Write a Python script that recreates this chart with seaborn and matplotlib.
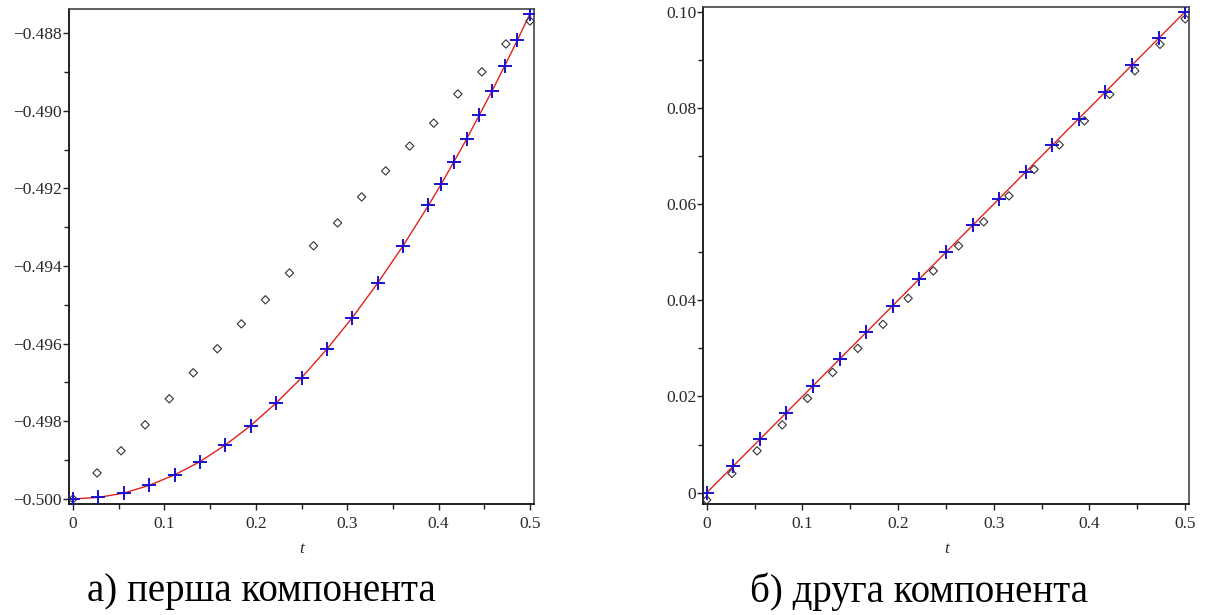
import matplotlib
matplotlib.use("Agg")
import matplotlib.pyplot as plt
import seaborn as sns
import pandas as pd

# ---- data ----
# left panel: first component
t_plus_1 = [0.0, 0.0278, 0.0556, 0.0833, 0.1111, 0.1389, 0.1667, 0.1944, 0.2222,
            0.25, 0.2778, 0.3056, 0.3333, 0.3611, 0.3889, 0.4028, 0.4167, 0.4306,
            0.4444, 0.4583, 0.4722, 0.4861, 0.5]
y_plus_1 = [-0.50000, -0.49996, -0.49985, -0.49965, -0.49938, -0.49904, -0.49861,
            -0.49811, -0.49753, -0.49688, -0.49614, -0.49533, -0.49444, -0.49348,
            -0.49244, -0.49189, -0.49132, -0.49073, -0.49012, -0.48950, -0.48885,
            -0.48819, -0.48750]
t_diam = [0.0, 0.0263, 0.0526, 0.0789, 0.1053, 0.1316, 0.1579, 0.1842, 0.2105,
          0.2368, 0.2632, 0.2895, 0.3158, 0.3421, 0.3684, 0.3947, 0.4211, 0.4474,
          0.4737, 0.5]
y_diam_1 = [-0.50000, -0.49933, -0.49876, -0.49809, -0.49742, -0.49675, -0.49613,
            -0.49549, -0.49487, -0.49418, -0.49348, -0.49289, -0.49222, -0.49155,
            -0.49091, -0.49032, -0.48957, -0.48900, -0.48828, -0.48769]

# right panel: second component
t_plus_2 = [0.0, 0.0278, 0.0556, 0.0833, 0.1111, 0.1389, 0.1667, 0.1944, 0.2222,
            0.25, 0.2778, 0.3056, 0.3333, 0.3611, 0.3889, 0.4167, 0.4444, 0.4722, 0.5]
y_plus_2 = [0.0, 0.00556, 0.01111, 0.01667, 0.02222, 0.02778, 0.03333, 0.03889,
            0.04444, 0.05, 0.05556, 0.06111, 0.06667, 0.07222, 0.07778, 0.08333,
            0.08889, 0.09444, 0.1]
y_diam_2 = [-0.0015, 0.0040, 0.0087, 0.0141, 0.0196, 0.0250, 0.0300, 0.0350,
            0.0404, 0.0461, 0.0513, 0.0563, 0.0617, 0.0672, 0.0723, 0.0773,
            0.0828, 0.0877, 0.0932, 0.0985]

x_ticks = [0, 0.1, 0.2, 0.3, 0.4, 0.5]
x_ticklabels = ["0", "0.1", "0.2", "0.3", "0.4", "0.5"]
y_ticks_1 = [-0.500, -0.498, -0.496, -0.494, -0.492, -0.490, -0.488]
y_ticklabels_1 = ["\u22120.500", "\u22120.498", "\u22120.496", "\u22120.494",
                  "\u22120.492", "\u22120.490", "\u22120.488"]
y_ticks_2 = [0, 0.02, 0.04, 0.06, 0.08, 0.10]
y_ticklabels_2 = ["0", "0.02", "0.04", "0.06", "0.08", "0.10"]

captions = ["а) перша компонента", "б) друга компонента"]
xlabel = "t"

# ---- figure ----
sns.set_style("white")
plt.rcParams["font.family"] = ["Liberation Serif", "DejaVu Serif"]

fig = plt.figure(figsize=(12.05, 6.15), dpi=100)
ax1 = fig.add_axes([69 / 1205, 111 / 615, 465 / 1205, 495 / 615])
ax2 = fig.add_axes([703.3 / 1205, 111 / 615, 486 / 1205, 496.7 / 615])

panels = [
    (ax1, t_plus_1, y_plus_1, y_diam_1, y_ticks_1, y_ticklabels_1,
     (-0.0044, 0.5044), (-0.50013, -0.48738)),
    (ax2, t_plus_2, y_plus_2, y_diam_2, y_ticks_2, y_ticklabels_2,
     (-0.0036, 0.5043), (-0.00235, 0.1009)),
]

for ax, tp, yp, yd, yt, ytl, xl, yl in panels:
    sns.lineplot(x=tp, y=yp, ax=ax, color="#e0201c", linewidth=1.0, zorder=2,
                 sort=False, estimator=None)
    sns.scatterplot(x=t_diam, y=yd, ax=ax, marker="D", s=18, zorder=3)
    coll = ax.collections[-1]
    coll.set_facecolor("none")
    coll.set_edgecolor("#333333")
    coll.set_linewidth(0.8)
    sns.scatterplot(x=tp, y=yp, ax=ax, marker="+", s=90, color="#1a10d0",
                    linewidth=1.4, zorder=4)

    ax.set_xlim(*xl)
    ax.set_ylim(*yl)
    ax.set_xticks(x_ticks)
    ax.set_xticklabels(x_ticklabels)
    ax.set_yticks(yt)
    ax.set_yticklabels(ytl)
    ax.set_xticks([0.05, 0.15, 0.25, 0.35, 0.45], minor=True)
    step = yt[1] - yt[0]
    ax.set_yticks([v + step / 2 for v in yt[:-1]], minor=True)
    ax.tick_params(axis="both", which="major", direction="out", length=4,
                   width=1.0, color="#222222", labelsize=12.5,
                   labelcolor="#2a2a2a", left=True, bottom=True)
    ax.tick_params(axis="both", which="minor", direction="out", length=3.5,
                   width=1.0, color="#222222", left=True, bottom=True)
    ax.tick_params(axis="y", which="major", pad=1)
    ax.tick_params(axis="x", which="major", pad=5)
    for side in ["left", "bottom"]:
        ax.spines[side].set_color("#111111")
        ax.spines[side].set_linewidth(1.3)
    for side in ["top", "right"]:
        ax.spines[side].set_color("#444444")
        ax.spines[side].set_linewidth(1.2)
    ax.set_xlabel(xlabel, fontstyle="italic", fontsize=12.5, color="#2a2a2a",
                  labelpad=6)
    ax.set_ylabel("")

fig.text(261 / 1205, 1 - 592 / 615, captions[0], ha="center", va="center",
         fontsize=28, color="black")
fig.text(919 / 1205, 1 - 592 / 615, captions[1], ha="center", va="center",
         fontsize=28, color="black")

fig.savefig("out.png", dpi=100)
